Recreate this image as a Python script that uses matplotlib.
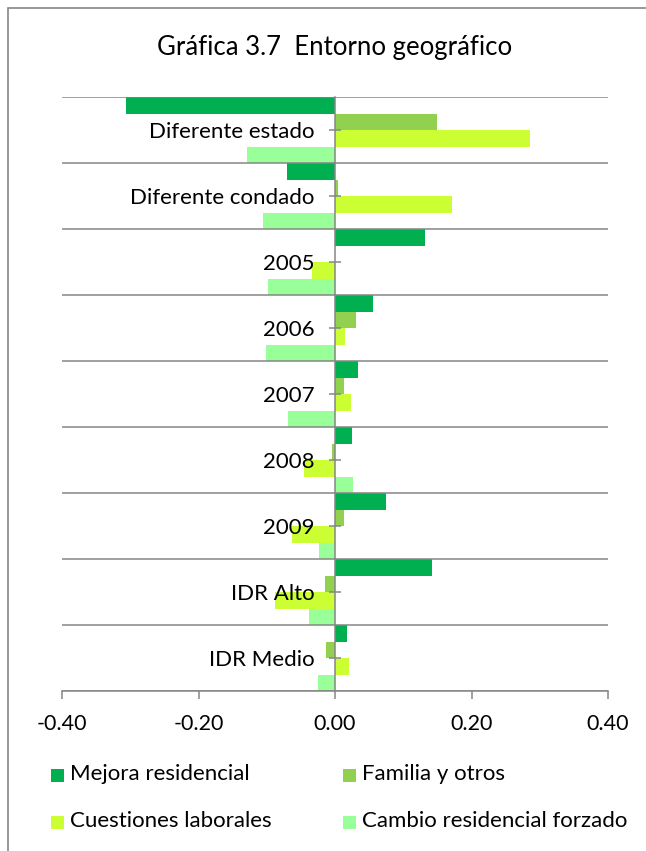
import numpy as np
import matplotlib
matplotlib.use("Agg")
import matplotlib.pyplot as plt
from matplotlib.patches import Rectangle
from matplotlib.ticker import FormatStrFormatter

plt.rcParams['font.family'] = ['Lato', 'DejaVu Sans']
plt.rcParams['axes.unicode_minus'] = False

# Categories, top to bottom
categories = ['Diferente estado', 'Diferente condado', '2005', '2006', '2007',
              '2008', '2009', 'IDR Alto', 'IDR Medio']

# Series values per category
mejora = [-0.306, -0.070, 0.132, 0.055, 0.033, 0.025, 0.074, 0.142, 0.018]
familia = [0.150, 0.005, 0.000, 0.031, 0.013, -0.005, 0.013, -0.015, -0.013]
cuestiones = [0.286, 0.171, -0.033, 0.015, 0.024, -0.046, -0.063, -0.088, 0.021]
cambio = [-0.129, -0.106, -0.098, -0.101, -0.069, 0.027, -0.023, -0.038, -0.025]

series_names = ['Mejora residencial', 'Familia y otros',
                'Cuestiones laborales', 'Cambio residencial forzado']
series_values = [mejora, familia, cuestiones, cambio]
colors = ['#00B050', '#92D050', '#CCFF33', '#99FF99']

grey = '#868686'

fig = plt.figure(figsize=(6.46, 8.51), dpi=100)
ax = fig.add_axes([62 / 646, 1 - 691 / 851, (608 - 62) / 646, (691 - 97) / 851])

y = np.arange(len(categories))
bar_h = 0.25
for k, (vals, col) in enumerate(zip(series_values, colors)):
    ax.barh(y - 0.375 + k * bar_h, vals, height=bar_h, color=col,
            linewidth=0, zorder=1)

ax.set_xlim(-0.4, 0.4)
ax.set_ylim(len(categories) - 0.5, -0.5)

# value axis
ax.set_xticks([-0.4, -0.2, 0.0, 0.2, 0.4])
ax.xaxis.set_major_formatter(FormatStrFormatter('%.2f'))
ax.tick_params(axis='x', direction='out', length=5.5, width=1.1, color=grey,
               pad=11, labelsize=15.5)

# category axis sits at zero, labels drawn over the bars
ax.spines['left'].set_position(('data', 0))
ax.set_yticks(y)
ax.set_yticklabels(categories)
ax.tick_params(axis='y', direction='inout', length=8, width=1.1, color=grey,
               pad=11, labelsize=16)
ax.set_yticks(np.arange(-0.5, len(categories), 1), minor=True)
ax.tick_params(axis='y', which='minor', length=0)
ax.grid(axis='y', which='minor', color=grey, linewidth=1.1)
ax.yaxis.set_zorder(3)

for side in ['top', 'right']:
    ax.spines[side].set_visible(False)
for side in ['left', 'bottom']:
    ax.spines[side].set_color(grey)
    ax.spines[side].set_linewidth(1.1)
    ax.spines[side].set_zorder(3)

fig.text(335 / 646, 1 - 48 / 851, 'Gráfica 3.7  Entorno geográfico',
         ha='center', va='center', fontsize=18.5)

# legend, two rows of two
legend_pos = [(51, 775), (343, 775), (51, 822), (343, 822)]
for name, col, (px, py) in zip(series_names, colors, legend_pos):
    fig.add_artist(Rectangle((px / 646, 1 - (py + 6.5) / 851), 13 / 646, 13 / 851,
                             transform=fig.transFigure, facecolor=col,
                             edgecolor='none'))
    fig.text((px + 19) / 646, 1 - (py - 1) / 851, name, ha='left', va='center',
             fontsize=16)

# chart frame
fig.add_artist(Rectangle((8 / 646, -0.1), 1.2, 1.1 - 8 / 851,
                         transform=fig.transFigure, facecolor='none',
                         edgecolor=grey, linewidth=1.2))

fig.savefig('out.png', dpi=100)
